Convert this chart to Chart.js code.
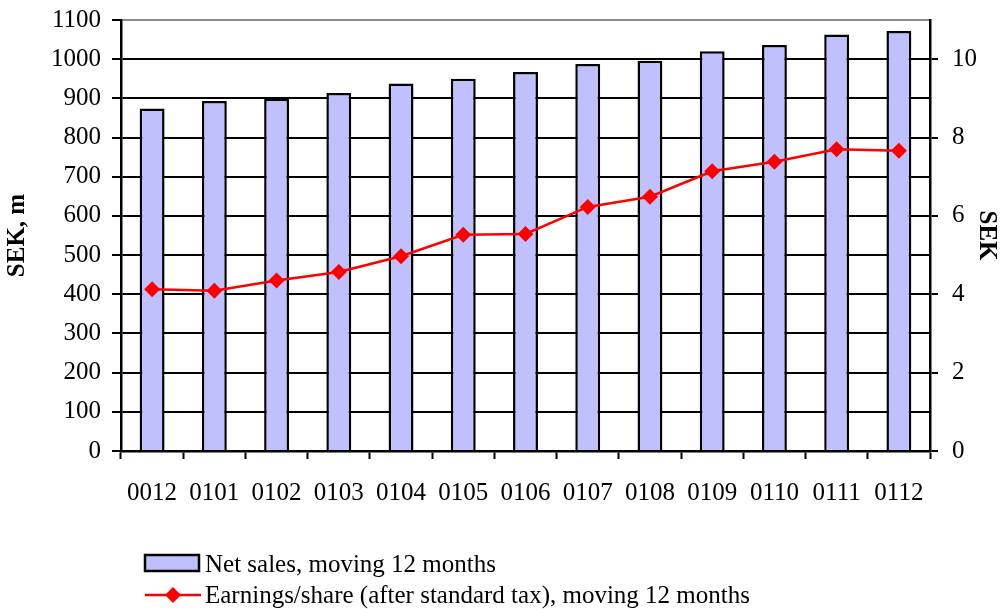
<!DOCTYPE html>
<html>
<head>
<meta charset="utf-8">
<style>
  html, body { margin: 0; padding: 0; background: #ffffff; }
  #wrap { width: 1001px; height: 609px; }
</style>
<script src="https://cdn.jsdelivr.net/npm/chart.js@4/dist/chart.umd.min.js"></script>
</head>
<body>
<div id="wrap"><canvas id="chart" width="1001" height="609"></canvas></div>
<script>
// Periods (YYMM)
const categories = ['0012', '0101', '0102', '0103', '0104', '0105', '0106',
                    '0107', '0108', '0109', '0110', '0111', '0112'];
// Net sales, moving 12 months (SEK m)
const netSales = [874, 893, 899, 914, 938, 950, 967, 988, 996, 1020, 1036, 1063, 1072];
// Earnings per share after standard tax, moving 12 months (SEK)
const eps = [4.13, 4.09, 4.35, 4.57, 4.97, 5.52, 5.54, 6.23, 6.49, 7.14, 7.38, 7.70, 7.66];
// Legend texts
const seriesNames = ['Net sales, moving 12 months',
                     'Earnings/share (after standard tax), moving 12 months'];
// Axis titles
const leftTitle = 'SEK, m';
const rightTitle = 'SEK';

const FONT = '"Liberation Serif", "Times New Roman", serif';
const BAR_FILL = '#c0c0ff';
const LINE_RED = '#ff0000';

// Two-row legend drawn below the axis labels
const bottomLegend = {
  id: 'bottomLegend',
  afterDraw(chart) {
    const ctx = chart.ctx;
    const bar = chart.data.datasets[0];
    const line = chart.data.datasets[1];
    ctx.save();
    // bar swatch
    ctx.fillStyle = bar.backgroundColor;
    ctx.fillRect(145, 555, 54, 16);
    ctx.lineWidth = 2.5;
    ctx.strokeStyle = bar.borderColor;
    ctx.strokeRect(145, 555, 54, 16);
    // line swatch with diamond marker
    ctx.strokeStyle = line.borderColor;
    ctx.lineWidth = 2.5;
    ctx.beginPath();
    ctx.moveTo(145, 595);
    ctx.lineTo(201, 595);
    ctx.stroke();
    const r = 8;
    ctx.fillStyle = line.pointBackgroundColor;
    ctx.beginPath();
    ctx.moveTo(173, 595 - r);
    ctx.lineTo(173 + r, 595);
    ctx.lineTo(173, 595 + r);
    ctx.lineTo(173 - r, 595);
    ctx.closePath();
    ctx.fill();
    // texts
    ctx.fillStyle = '#000';
    ctx.font = '25px ' + FONT;
    ctx.textBaseline = 'alphabetic';
    ctx.textAlign = 'left';
    ctx.fillText(bar.label, 205, 572);
    ctx.fillText(line.label, 205, 603);
    ctx.restore();
  }
};

// fixed box size for a vertical axis, without extra label overhang padding
const fixVertical = (w) => (scale) => {
  scale.width = w;
  scale.paddingTop = 0;
  scale.paddingBottom = 0;
};

new Chart(document.getElementById('chart'), {
  data: {
    labels: categories,
    datasets: [
      {
        type: 'bar',
        label: seriesNames[0],
        data: netSales,
        yAxisID: 'yL',
        backgroundColor: BAR_FILL,
        borderColor: '#000',
        borderWidth: 2.5,
        barPercentage: 0.4,
        categoryPercentage: 1.0,
        order: 2
      },
      {
        type: 'line',
        label: seriesNames[1],
        data: eps,
        yAxisID: 'yR',
        borderColor: LINE_RED,
        borderWidth: 2.5,
        pointStyle: 'rectRot',
        pointRadius: 8,
        pointBackgroundColor: LINE_RED,
        pointBorderColor: LINE_RED,
        pointBorderWidth: 0,
        tension: 0,
        order: 1
      }
    ]
  },
  options: {
    responsive: false,
    devicePixelRatio: 1,
    animation: false,
    layout: { padding: { top: 20, left: 0, right: 0, bottom: 0 } },
    plugins: {
      legend: { display: false },
      tooltip: { enabled: false }
    },
    scales: {
      x: {
        offset: true,
        grid: {
          offset: true,
          drawOnChartArea: false,
          tickLength: 8,
          tickColor: '#000',
          tickWidth: 2
        },
        border: { color: '#000', width: 2.5 },
        ticks: {
          color: '#000',
          font: { family: FONT, size: 25 },
          padding: 19,
          maxRotation: 0,
          autoSkip: false
        },
        afterFit(scale) {
          scale.height = 158;
          scale.paddingLeft = 0;
          scale.paddingRight = 0;
        }
      },
      yL: {
        position: 'left',
        min: 0,
        max: 1100,
        ticks: {
          stepSize: 100,
          color: '#000',
          font: { family: FONT, size: 25 },
          padding: 11,
          callback: (v) => String(v)
        },
        grid: {
          color: (c) => (c.tick && c.tick.value === 1100 ? '#8c8c8c' : '#000'),
          lineWidth: 2,
          tickLength: 9,
          tickColor: '#000'
        },
        border: { color: '#000', width: 2.5 },
        title: {
          display: true,
          text: leftTitle,
          color: '#000',
          font: { family: FONT, size: 25, weight: 'bold' },
          padding: { top: 3, bottom: 0 }
        },
        afterFit: fixVertical(121)
      },
      yR: {
        position: 'right',
        min: 0,
        max: 11,
        ticks: {
          stepSize: 1,
          autoSkip: false,
          color: '#000',
          font: { family: FONT, size: 25 },
          padding: 14,
          callback: (v) => (v % 2 === 0 ? String(v) : '')
        },
        grid: {
          drawOnChartArea: false,
          tickLength: 8,
          lineWidth: 2,
          tickColor: (c) => (c.tick && c.tick.value % 2 === 0 ? '#000' : 'rgba(0,0,0,0)')
        },
        border: { color: '#000', width: 2.5 },
        title: {
          display: true,
          text: rightTitle,
          color: '#000',
          font: { family: FONT, size: 25, weight: 'bold' },
          padding: { top: 0, bottom: 0 }
        },
        afterFit: fixVertical(71)
      }
    }
  },
  plugins: [bottomLegend]
});
</script>
</body>
</html>
